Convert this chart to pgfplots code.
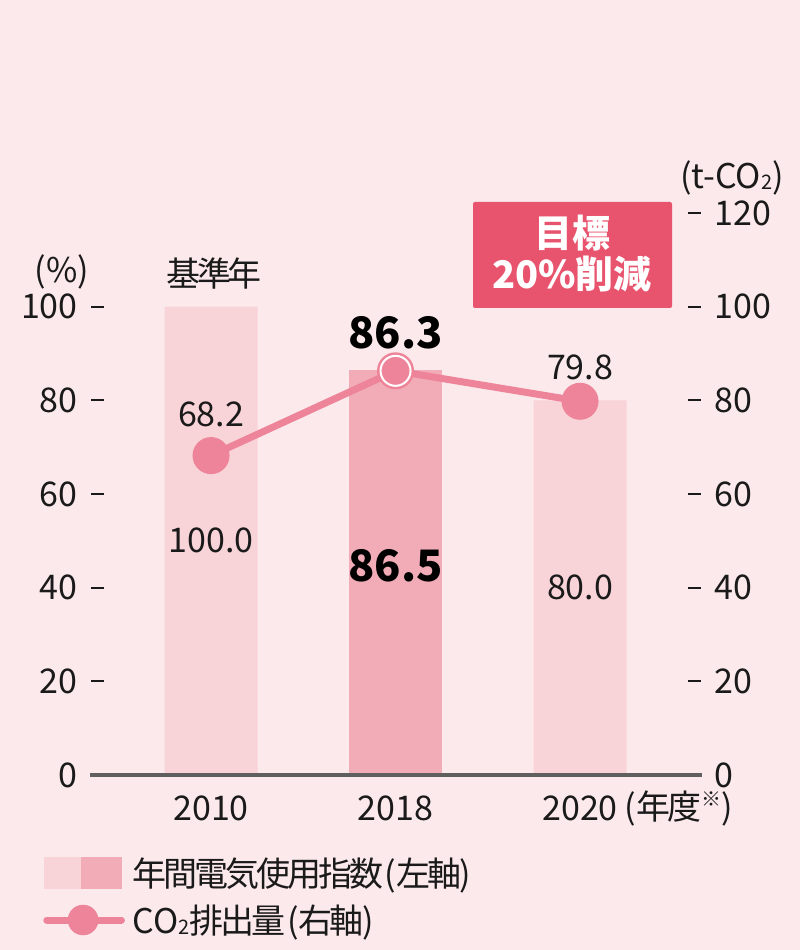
\documentclass[border=0pt]{standalone}
\usepackage{pgfplots}
\pgfplotsset{compat=1.18}
\usepackage{fontspec}
\setmainfont{Noto Sans CJK JP}
\newfontfamily\cjk{Noto Sans CJK JP}[LetterSpace=-9]
\definecolor{bg}{HTML}{FCE9EB}
\definecolor{lightbar}{HTML}{F8D4D9}
\definecolor{darkbar}{HTML}{F2ACB7}
\definecolor{linecol}{HTML}{EE8499}
\definecolor{boxcol}{HTML}{E8546E}
\definecolor{axiscol}{HTML}{5F5F5F}
\definecolor{txt}{HTML}{1A1A1A}
\newcommand\fs{\fontsize{25.5pt}{30pt}\selectfont}
\newcommand\fsb{\fontsize{32.5pt}{38pt}\selectfont\bfseries}
\newcommand\fsub{\fontsize{15pt}{15pt}\selectfont}
\newcommand\tickdash{\rule[0.33em]{9.5pt}{1.5pt}}
\begin{document}
\begin{tikzpicture}[x=0.75pt,y=0.75pt]
\fill[bg] (0,0) rectangle (800,950);
\begin{axis}[
  at={(67.5pt,131.25pt)}, anchor=south west,
  scale only axis, width=459pt, height=421.5pt,
  xmin=-0.656, xmax=2.661, ymin=0, ymax=120,
  axis line style={draw=none}, major tick length=0pt,
  xtick={0,1,2}, xticklabels={2010,2018,2020},
  xticklabel style={anchor=base, inner sep=0pt, yshift=-34.5pt},
  ytick={0,20,...,100},
  yticklabel={\ifnum\ticknum=0 \pgfmathprintnumber{\tick}\hspace{10pt}\phantom{\tickdash}\else\pgfmathprintnumber{\tick}\hspace{10pt}\tickdash\fi},
  yticklabel style={anchor=east, inner sep=0pt, xshift=10.5pt},
  tick label style={font=\fs, text=txt},
  /pgf/number format/assume math mode=true,
  clip=false,
]
\addplot[ybar, bar width=0.504, bar shift=0pt, fill=lightbar, draw=none] coordinates {(0,100) (2,80)};
\addplot[ybar, bar width=0.504, bar shift=0pt, fill=darkbar, draw=none] coordinates {(1,86.5)};
\draw[axiscol, line width=3pt] (rel axis cs:0,0) -- (rel axis cs:1,0);
\node[font=\fs, text=txt] at (axis cs:0,50) {100.0};
\node[font=\fsb, text=black] at (axis cs:1,44.6) {86.5};
\node[font=\fs, text=txt] at (axis cs:2,40.1) {80.0};
\end{axis}
\begin{axis}[
  at={(67.5pt,131.25pt)}, anchor=south west,
  scale only axis, width=459pt, height=421.5pt,
  xmin=-0.656, xmax=2.661, ymin=0, ymax=120,
  axis line style={draw=none}, major tick length=0pt,
  xtick=\empty,
  ytick={0,20,...,120}, yticklabel pos=right,
  yticklabel={\ifnum\ticknum=0 \phantom{\tickdash}\hspace{10pt}\pgfmathprintnumber{\tick}\else\tickdash\hspace{10pt}\pgfmathprintnumber{\tick}\fi},
  yticklabel style={anchor=west, inner sep=0pt, xshift=-10.5pt},
  tick label style={font=\fs, text=txt},
  /pgf/number format/assume math mode=true,
  clip=false,
  legend cell align=left,
  legend style={at={(-0.0768,-0.1459)}, anchor=north west, draw=none, fill=none,
    inner sep=0pt, font=\fs, text=txt, row sep=12pt,
    nodes={inner sep=0pt},
    /tikz/every odd column/.append style={column sep=6pt}},
]
\addlegendimage{legend image code/.code={
  \fill[lightbar] (0pt,-11.6pt) rectangle (27.75pt,11.6pt);
  \fill[darkbar] (27.75pt,-11.6pt) rectangle (57.75pt,11.6pt);}}
\addlegendentry{{\cjk 年間電気使用指数}\kern1pt({\cjk 左軸}\kern-1pt)}
\addlegendimage{legend image code/.code={
  \draw[linecol, line width=5.25pt, line cap=round] (2pt,0pt) -- (58pt,0pt);
  \fill[linecol] (29.25pt,0pt) circle (11.25pt);}}
\addlegendentry{CO{\fsub\raisebox{-1pt}{2}}{\cjk 排出量}\kern1pt({\cjk 右軸}\kern-1pt)}
\addplot[linecol, line width=5.25pt, mark=*, mark size=11.25pt, mark options={fill=linecol, draw=none}, forget plot] coordinates {(0,68.2) (1,86.3) (2,79.8)};
\addplot[only marks, mark=*, mark size=11.25pt, mark options={fill=linecol, draw=white, line width=1.5pt}, forget plot] coordinates {(1,86.3)};
\node[font=\fs, text=txt, yshift=30.75pt] at (axis cs:0,68.2) {68.2};
\node[font=\fsb, text=black, yshift=28.5pt] at (axis cs:1,86.3) {86.3};
\node[font=\fs, text=txt, yshift=25.5pt] at (axis cs:2,79.8) {79.8};
\end{axis}
\node[font=\fs, text=txt] at (62,950-272) {(\%)};
\node[font=\fs\cjk, text=txt] at (214,950-274) {基準年};
\node[font=\fs, text=txt] at (732,950-178) {(t-CO{\fsub\raisebox{-1pt}{2}})};
\fill[boxcol, rounded corners=1.5pt] (473,950-202) rectangle (672,950-308);
\node[font=\fontsize{28.5pt}{33pt}\selectfont\bfseries, text=white] at (572,950-233) {目標};
\node[font=\fontsize{28.5pt}{33pt}\selectfont\bfseries, text=white] at (572,950-274) {20\%削減};
\node[font=\fs, text=txt, anchor=west] at (620,950-808) {({\cjk 年度}\raisebox{0.38em}{\fontsize{15pt}{15pt}\selectfont ※})};
\pgfresetboundingbox
\path[use as bounding box] (0,0) rectangle (800,950);
\end{tikzpicture}
\end{document}
